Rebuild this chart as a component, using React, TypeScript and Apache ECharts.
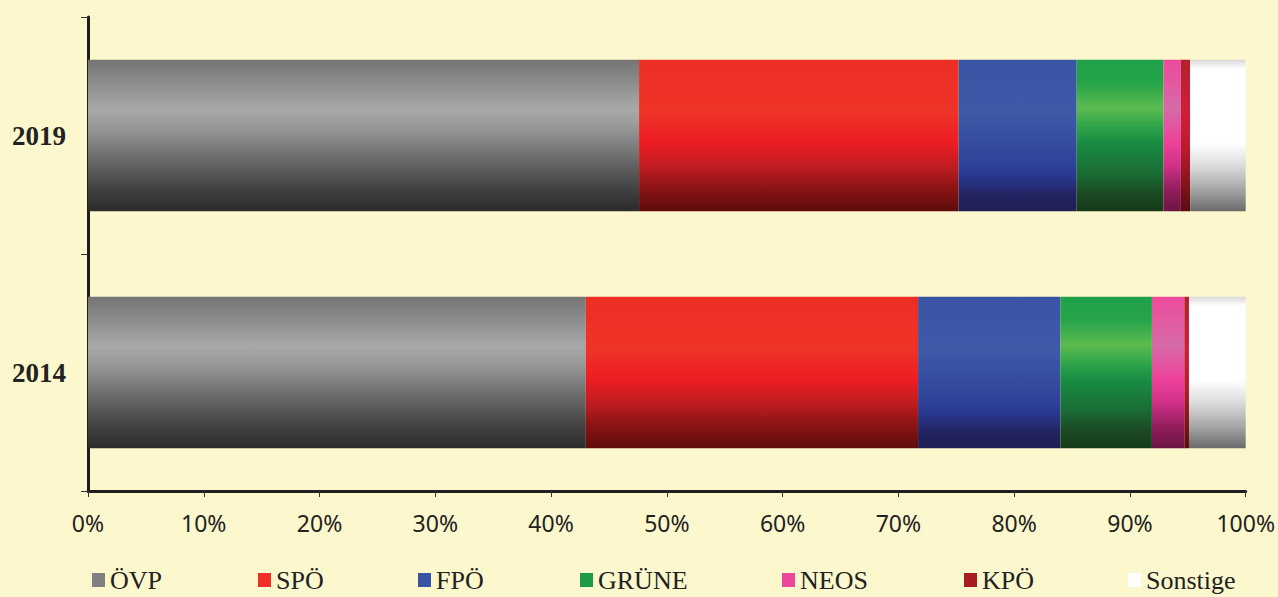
import React, { useEffect, useRef } from "react";
import * as echarts from "echarts";

const years = ["2014", "2019"];
const parties = ["ÖVP", "SPÖ", "FPÖ", "GRÜNE", "NEOS", "KPÖ", "Sonstige"];
const oevp = [43.0, 47.6];
const spoe = [28.7, 27.6];
const fpoe = [12.3, 10.2];
const gruene = [7.9, 7.5];
const neos = [2.8, 1.5];
const kpoe = [0.4, 0.8];
const sonstige = [4.9, 4.8];
const xTicks = [0, 10, 20, 30, 40, 50, 60, 70, 80, 90, 100];

const seriesValues = [oevp, spoe, fpoe, gruene, neos, kpoe, sonstige];
const legendColors = ["#808080", "#ee3124", "#3953a4", "#1e9c48", "#ec4899", "#a81d22", "#ffffff"];
const legendLeft = [92, 258, 418, 580, 782, 964, 1128];

const gradStops: [number, string][][] = [
  [[0, "#747474"], [0.33, "#a9a9a9"], [0.46, "#959595"], [0.66, "#6a6a6a"], [0.86, "#404040"], [1, "#2a2b2b"]],
  [[0, "#ec2f24"], [0.35, "#ee3327"], [0.55, "#ed1c24"], [0.7, "#c01d22"], [0.85, "#8a1414"], [1, "#5e0c0c"]],
  [[0, "#3954a4"], [0.35, "#3e5aa7"], [0.68, "#2f4399"], [0.76, "#283891"], [0.9, "#22235f"], [1, "#1f1f55"]],
  [[0, "#1fa049"], [0.15, "#25a449"], [0.32, "#5cbb4f"], [0.45, "#2ba349"], [0.55, "#188c43"], [0.75, "#1a6c35"], [0.88, "#1b4a24"], [1, "#163a18"]],
  [[0, "#ed4a9b"], [0.32, "#d66aa6"], [0.55, "#ee419a"], [0.7, "#d03088"], [0.85, "#951e5e"], [1, "#6b1542"]],
  [[0, "#b4212a"], [0.35, "#cf1f3c"], [0.6, "#b81c2b"], [1, "#5a0b10"]],
  [[0, "#d8d8d8"], [0.06, "#ffffff"], [0.55, "#ffffff"], [0.7, "#dcdcdc"], [0.85, "#a8a8a8"], [1, "#6a6a6a"]],
];

export default function App() {
  const ref = useRef<HTMLDivElement>(null);
  useEffect(() => {
    if (!ref.current) return;
    const chart = echarts.init(ref.current, null, { renderer: "svg" });
    const series = parties.map((name, i) => ({
      name,
      type: "bar",
      stack: "total",
      barCategoryGap: "36%",
      data: seriesValues[i],
      itemStyle: {
        color: new echarts.graphic.LinearGradient(
          0, 0, 0, 1,
          gradStops[i].map(([offset, color]) => ({ offset, color }))
        ),
      },
    }));
    const legends = parties.map((name, i) => ({
      data: [{ name, itemStyle: { color: legendColors[i] } }],
      left: legendLeft[i],
      top: 567,
      icon: "rect",
      itemWidth: 13,
      itemHeight: 14,
      padding: 0,
      selectedMode: false,
      textStyle: {
        fontFamily: "'Liberation Serif', 'Times New Roman', serif",
        fontSize: 26,
        color: "#222",
      },
    }));
    chart.setOption({
      animation: false,
      backgroundColor: "#fdf7cd",
      grid: { left: 88, right: 30.5, top: 17, bottom: 106 },
      legend: legends,
      xAxis: {
        type: "value",
        min: 0,
        max: 100,
        interval: 10,
        splitLine: { show: false },
        axisLine: { show: true, lineStyle: { color: "#1e1e1e", width: 3 } },
        axisTick: { show: true, length: 6, lineStyle: { color: "#333", width: 1 } },
        axisLabel: {
          formatter: (v: number) => (xTicks.includes(v) ? v + "%" : ""),
          margin: 20,
          fontFamily: "'Noto Sans', sans-serif",
          fontSize: 23,
          color: "#222",
        },
      },
      yAxis: {
        type: "category",
        data: years,
        axisLine: { show: true, lineStyle: { color: "#1e1e1e", width: 3 } },
        axisTick: { show: true, length: 7, lineStyle: { color: "#333", width: 1 } },
        axisLabel: {
          margin: 22,
          fontFamily: "'Liberation Serif', 'Times New Roman', serif",
          fontWeight: "bold",
          fontSize: 27,
          color: "#222",
        },
      },
      series,
    });
    return () => chart.dispose();
  }, []);
  return (
    <div
      ref={ref}
      style={{ position: "absolute", left: 0, top: 0, width: 1278, height: 597 }}
    />
  );
}
